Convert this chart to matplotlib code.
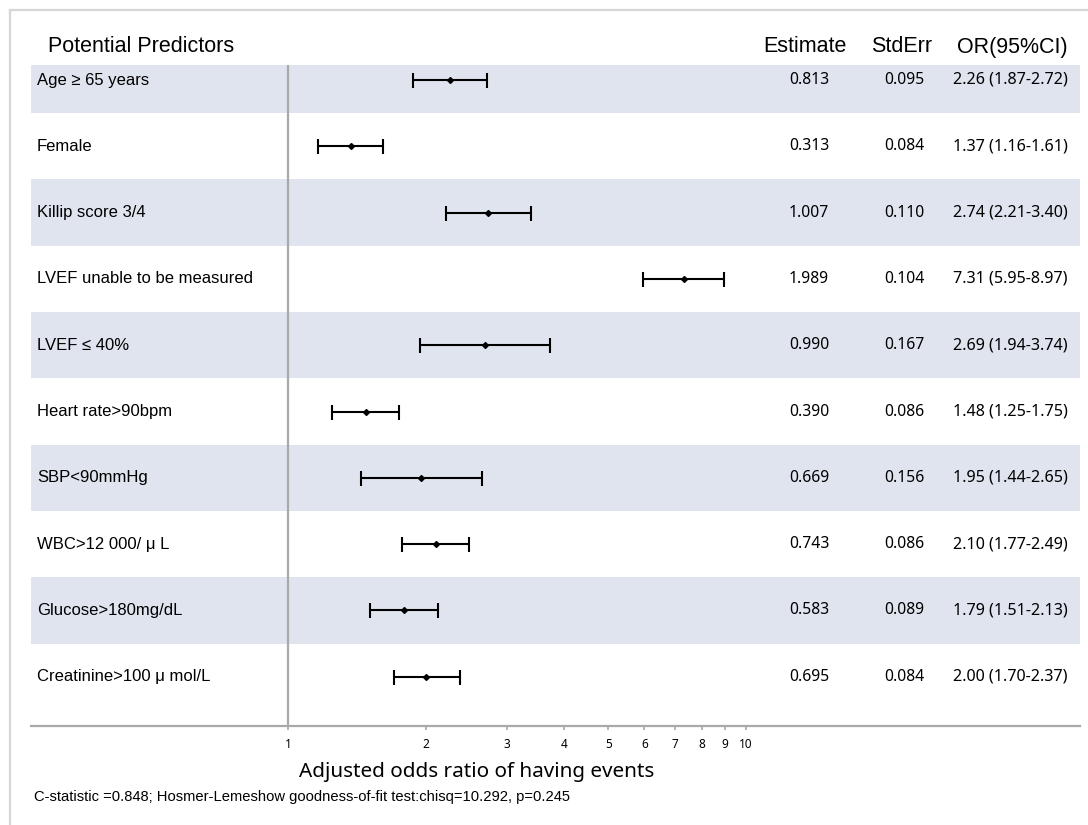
import matplotlib
matplotlib.use("Agg")
import matplotlib.pyplot as plt
import matplotlib.ticker as ticker
import matplotlib.transforms as mtransforms
from matplotlib.lines import Line2D

plt.rcParams['font.family'] = ['Noto Sans', 'DejaVu Sans']
ARIAL = ['Liberation Sans', 'DejaVu Sans']

predictors = ['Age \u2265 65 years', 'Female', 'Killip score 3/4',
              'LVEF unable to be measured', 'LVEF \u2264 40%',
              'Heart rate>90bpm', 'SBP<90mmHg', 'WBC>12 000/ \u03bc L',
              'Glucose>180mg/dL', 'Creatinine>100 \u03bc mol/L']
estimate = [0.813, 0.313, 1.007, 1.989, 0.990, 0.390, 0.669, 0.743, 0.583, 0.695]
stderr = [0.095, 0.084, 0.110, 0.104, 0.167, 0.086, 0.156, 0.086, 0.089, 0.084]
odds = [2.26, 1.37, 2.74, 7.31, 2.69, 1.48, 1.95, 2.10, 1.79, 2.00]
ci_low = [1.87, 1.16, 2.21, 5.95, 1.94, 1.25, 1.44, 1.77, 1.51, 1.70]
ci_high = [2.72, 1.61, 3.40, 8.97, 3.74, 1.75, 2.65, 2.49, 2.13, 2.37]
xticks = [1, 2, 3, 4, 5, 6, 7, 8, 9, 10]

W, H = 1088, 825
fig = plt.figure(figsize=(W / 100, H / 100), dpi=100)


def fx(px):
    return px / W


def fy(py):
    return 1 - py / H


# axes box in pixels: x 31..1080, y 65..726
ax = fig.add_axes([fx(31), fy(726), fx(1080) - fx(31), fy(65) - fy(726)])
ax.set_xscale('log')
decade = 458.0
ax.set_xlim(10 ** ((31 - 288) / decade), 10 ** ((1080 - 288) / decade))
row_h = 66.3
ax.set_ylim((726 - 80) / row_h, (65 - 80) / row_h)

n = len(predictors)
ys = list(range(n))
for i in ys:
    if i % 2 == 0:
        ax.axhspan(i - 0.5, i + 0.5, color='#dfe4ee', lw=0, zorder=0)

ax.axvline(1, color='#a9a9a9', lw=1.6, zorder=1)

xerr = [[o - l for o, l in zip(odds, ci_low)], [h - o for o, h in zip(odds, ci_high)]]
ax.errorbar(odds, ys, xerr=xerr, fmt='D', ms=3, color='black', ecolor='black',
            elinewidth=1.5, capsize=5.4, capthick=1.5, zorder=3)

for s in ['top', 'right', 'left']:
    ax.spines[s].set_visible(False)
ax.spines['bottom'].set_color('#a9a9a9')
ax.spines['bottom'].set_linewidth(1.6)
ax.xaxis.set_major_locator(ticker.FixedLocator(xticks))
ax.xaxis.set_major_formatter(ticker.FixedFormatter([str(t) for t in xticks]))
ax.xaxis.set_minor_locator(ticker.NullLocator())
ax.tick_params(axis='x', colors='#a9a9a9', labelcolor='black', length=3,
               width=1.2, labelsize=8.5, pad=6)
ax.set_yticks([])

# table text
trans = mtransforms.blended_transform_factory(fig.transFigure, ax.transData)
for i in ys:
    ax.text(fx(37), i, predictors[i], transform=trans, ha='left', va='center',
            family=ARIAL, fontsize=12)
    ax.text(fx(809), i, f'{estimate[i]:.3f}', transform=trans, ha='center', va='center', fontsize=11.3)
    ax.text(fx(904), i, f'{stderr[i]:.3f}', transform=trans, ha='center', va='center', fontsize=11.3)
    ax.text(fx(1010), i, f'{odds[i]:.2f} ({ci_low[i]:.2f}-{ci_high[i]:.2f})',
            transform=trans, ha='center', va='center', fontsize=11.6)

hdr = dict(family=ARIAL, fontsize=15.5, va='center')
fig.text(fx(48), fy(47), 'Potential Predictors', ha='left', **hdr)
fig.text(fx(805), fy(47), 'Estimate', ha='center', **hdr)
fig.text(fx(902), fy(47), 'StdErr', ha='center', **hdr)
fig.text(fx(1012), fy(47), 'OR(95%CI)', ha='center', **hdr)

fig.text(fx(477), fy(772), 'Adjusted odds ratio of having events', ha='center',
         va='center', fontsize=14.9)
fig.text(fx(34), fy(797),
         'C-statistic =0.848; Hosmer-Lemeshow goodness-of-fit test:chisq=10.292, p=0.245',
         ha='left', va='center', family=ARIAL, fontsize=10.6)

# light frame around the figure
fig.add_artist(Line2D([fx(10), fx(10)], [0, fy(10)], color='#d6d6d6', lw=1.6))
fig.add_artist(Line2D([fx(10), 1], [fy(10), fy(10)], color='#d6d6d6', lw=1.6))

fig.savefig('out.png', dpi=100)
